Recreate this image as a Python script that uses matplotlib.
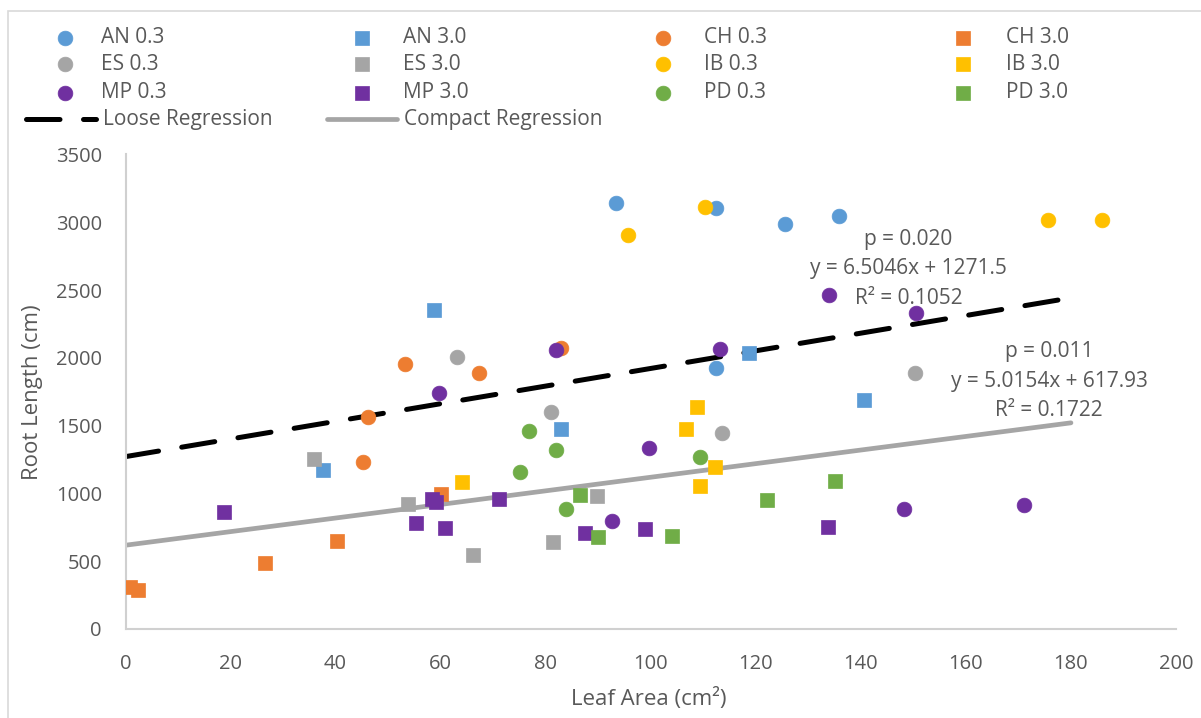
import matplotlib
matplotlib.use("Agg")
import matplotlib.pyplot as plt
from matplotlib.lines import Line2D
from matplotlib.patches import Rectangle
import numpy as np

plt.rcParams["font.family"] = ["Open Sans", "DejaVu Sans"]

# leaf area (cm2) and root length (cm) per population / treatment
an_03_x = [93.3, 112.5, 125.5, 135.9, 112.5]
an_03_y = [3145, 3107, 2989, 3043, 1926]
an_30_x = [58.7, 37.6, 83.0, 118.8, 140.6]
an_30_y = [2353, 1174, 1474, 2036, 1690]
ch_03_x = [53.2, 67.3, 82.9, 46.1, 45.3]
ch_03_y = [1953, 1886, 2071, 1565, 1233]
ch_30_x = [60.1, 40.2, 26.5, 0.9, 2.3]
ch_30_y = [995, 646, 489, 307, 287]
es_03_x = [63.1, 81.0, 150.4, 113.6]
es_03_y = [2009, 1597, 1886, 1444]
es_30_x = [35.9, 53.8, 89.7, 81.4, 66.2]
es_30_y = [1253, 921, 982, 644, 548]
ib_03_x = [95.6, 110.4, 175.7, 186.0]
ib_03_y = [2903, 3115, 3016, 3019]
ib_30_x = [64.0, 108.9, 106.8, 112.2, 109.4]
ib_30_y = [1081, 1641, 1476, 1194, 1056]
mp_03_x = [81.9, 59.7, 134.0, 150.5, 113.2, 99.7, 92.7, 148.3, 171.0]
mp_03_y = [2056, 1744, 2461, 2334, 2068, 1334, 798, 884, 914]
mp_30_x = [58.3, 59.2, 71.2, 18.7, 55.3, 60.9, 87.4, 98.9, 133.8]
mp_30_y = [958, 934, 958, 864, 781, 742, 710, 737, 752]
pd_03_x = [76.9, 82.0, 75.2, 83.8, 109.3]
pd_03_y = [1462, 1322, 1155, 884, 1270]
pd_30_x = [86.6, 89.9, 104.0, 122.2, 135.1]
pd_30_y = [987, 680, 688, 955, 1093]

# fitted trend lines
loose_slope, loose_icept = 6.5046, 1271.5
compact_slope, compact_icept = 5.0154, 617.93
fit_x = [0, 180]

BLUE = "#5B9BD5"
ORANGE = "#ED7D31"
GREY = "#A5A5A5"
YELLOW = "#FFC000"
PURPLE = "#7030A0"
GREEN = "#70AD47"
TXT = "#595959"

series = [
    ("AN 0.3", an_03_x, an_03_y, BLUE, "o"),
    ("AN 3.0", an_30_x, an_30_y, BLUE, "s"),
    ("CH 0.3", ch_03_x, ch_03_y, ORANGE, "o"),
    ("CH 3.0", ch_30_x, ch_30_y, ORANGE, "s"),
    ("ES 0.3", es_03_x, es_03_y, GREY, "o"),
    ("ES 3.0", es_30_x, es_30_y, GREY, "s"),
    ("IB 0.3", ib_03_x, ib_03_y, YELLOW, "o"),
    ("IB 3.0", ib_30_x, ib_30_y, YELLOW, "s"),
    ("MP 0.3", mp_03_x, mp_03_y, PURPLE, "o"),
    ("MP 3.0", mp_30_x, mp_30_y, PURPLE, "s"),
    ("PD 0.3", pd_03_x, pd_03_y, GREEN, "o"),
    ("PD 3.0", pd_30_x, pd_30_y, GREEN, "s"),
]

W, H = 1201, 718
fig = plt.figure(figsize=(W / 100, H / 100), dpi=100)


def fx(px):
    return px / W


def fy(py):
    return 1 - py / H


ax = fig.add_axes([fx(125.5), fy(629), fx(1176) - fx(125.5), fy(154.5) - fy(629)])

# trend lines under the points
fx_arr = np.array(fit_x, dtype=float)
ax.plot(fx_arr, loose_slope * fx_arr + loose_icept, color="black", lw=3.6,
        dashes=(6.7, 4.7), dash_capstyle="round", zorder=2)
ax.plot(fx_arr, compact_slope * fx_arr + compact_icept, color=GREY, lw=3.4,
        solid_capstyle="round", zorder=2)

for name, xs, ys, col, mk in series:
    ax.plot(xs, ys, linestyle="none", marker=mk, markersize=10.6 if mk == "o" else 10.4,
            color=col, markeredgecolor=col, markeredgewidth=0.5, zorder=3)

ax.set_xlim(0, 200)
ax.set_ylim(0, 3500)
ax.set_xticks(np.arange(0, 201, 20))
ax.set_yticks(np.arange(0, 3501, 500))
for s in ["top", "right"]:
    ax.spines[s].set_visible(False)
for s in ["left", "bottom"]:
    ax.spines[s].set_color("#D0D0D0")
    ax.spines[s].set_linewidth(1.5)
ax.tick_params(length=0, labelsize=14.5, labelcolor=TXT)
ax.tick_params(axis="x", pad=18)
ax.tick_params(axis="y", pad=17)

fig.text(fx(33), fy(392), "Root Length (cm)", rotation=90, ha="center", va="center",
         fontsize=16, color=TXT)
fig.text(fx(649), fy(699), "Leaf Area (cm²)", ha="center", va="center",
         fontsize=16, color=TXT)

# regression annotations
for cx, top, lines in [
    (908.5, 239.3, ["p = 0.020", "y = 6.5046x + 1271.5", "R² = 0.1052"]),
    (1049, 351.7, ["p = 0.011", "y = 5.0154x + 617.93", "R² = 0.1722"]),
]:
    for i, t in enumerate(lines):
        fig.text(fx(cx), fy(top + i * 29.5), t, ha="center", va="center",
                 fontsize=15, color=TXT)

# legend block
col_mk = [65, 362, 662.5, 963]
col_tx = [101, 403, 704, 1005.5]
row_y = [37.7, 64.3, 92.7]
for k, (name, xs, ys, col, mk) in enumerate(series):
    r, c = divmod(k, 4)
    fig.add_artist(Line2D([fx(col_mk[c])], [fy(row_y[r])], marker=mk,
                          markersize=10.6 if mk == "o" else 10.4, color=col,
                          markeredgewidth=0.5, linestyle="none"))
    fig.text(fx(col_tx[c]), fy(row_y[r]), name, ha="left", va="center",
             fontsize=15, color=TXT)

fig.add_artist(Line2D([fx(26), fx(96)], [fy(119), fy(119)], color="black", lw=3.6,
                      dashes=(6.7, 4.7), dash_capstyle="round"))
fig.text(fx(103), fy(119), "Loose Regression", ha="left", va="center", fontsize=15, color=TXT)
fig.add_artist(Line2D([fx(327), fx(397)], [fy(119), fy(119)], color=GREY, lw=3.4,
                      solid_capstyle="round"))
fig.text(fx(404), fy(119), "Compact Regression", ha="left", va="center", fontsize=15, color=TXT)

# chart frame
fig.add_artist(Rectangle((fx(8), -0.1), 1.2, fy(11) + 0.1, transform=fig.transFigure,
                         fill=False, edgecolor="#D9D9D9", lw=1.2))

fig.savefig("out.png", dpi=100)
